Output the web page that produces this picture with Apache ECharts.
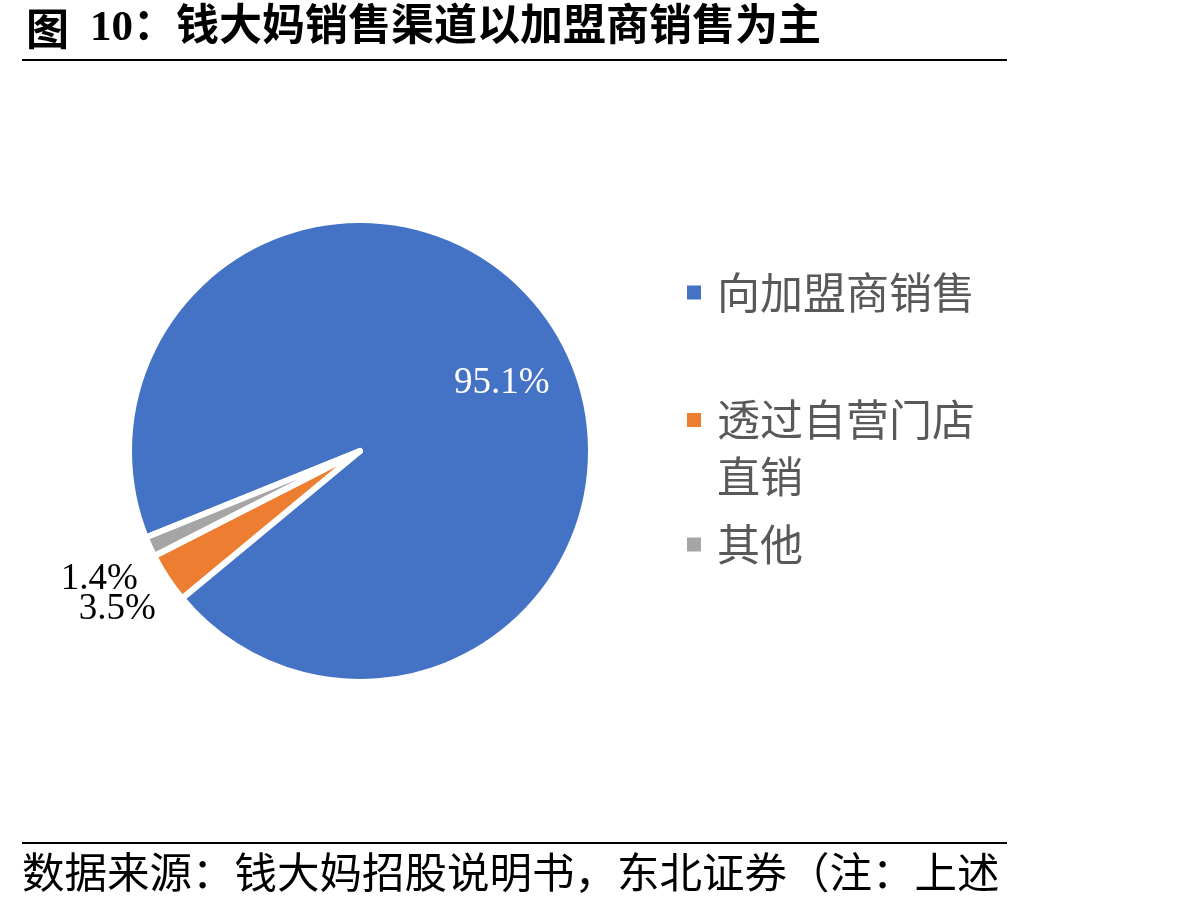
<!DOCTYPE html>
<html>
<head>
<meta charset="utf-8">
<script src="https://cdn.jsdelivr.net/npm/echarts@6/dist/echarts.min.js"></script>
<style>
html,body{margin:0;padding:0;background:#fff;}
#c{width:1198px;height:907px;}
</style>
</head>
<body>
<div id="c"></div>
<script>
// ---- data ----
var categories = ['向加盟商销售', '透过自营门店直销', '其他'];
var legendLines = [['向加盟商销售'], ['透过自营门店', '直销'], ['其他']];
var values = [95.1, 3.5, 1.4];
var colors = ['#4472C4', '#ED7D31', '#A5A5A5'];
var titleText = '图';
var titleText2 = '10：钱大妈销售渠道以加盟商销售为主';
var sourceText = '数据来源：钱大妈招股说明书，东北证券（注：上述';

// ---- layout constants ----
var CX = 360, CY = 451, R = 231, START = 202;
var labelFactor = [0.696, 1.263, 1.268];
var labelAngleNudge = [-4.2, -0.8, 1.1];
var labelColor = ['#ffffff', '#000000', '#000000'];

var total = values.reduce(function (a, b) { return a + b; }, 0);
function midAngleDeg(i) {
  var acc = 0;
  for (var k = 0; k < i; k++) acc += values[k];
  var mid = acc + values[i] / 2;
  return START - mid / total * 360; // clockwise
}

var chart = echarts.init(document.getElementById('c'), null, { renderer: 'canvas' });

var LH = 57;
var legendTops = [271, 353, 523];
var legends = categories.map(function (name, i) {
  var lines = legendLines[i];
  return {
    orient: 'vertical',
    left: 685,
    top: legendTops[i],
    padding: 0,
    itemWidth: 16,
    itemHeight: 16,
    icon: 'rect',
    selectedMode: false,
    data: [{ name: name, itemStyle: { color: colors[i] } }],
    formatter: function () {
      var s = lines.map(function (l) { return '{a|' + l + '}'; }).join('\n');
      // extra blank top line so the square sits beside the first text line
      if (lines.length === 2) s = '{e| }\n' + s;
      return s;
    },
    textStyle: {
      padding: [0, 0, 0, 10],
      rich: {
        a: { fontFamily: 'Noto Sans CJK SC', fontSize: 43, color: '#595959', lineHeight: LH },
        e: { fontSize: 20, lineHeight: LH }
      }
    }
  };
});

var option = {
  animation: false,
  backgroundColor: '#ffffff',
  legend: legends,
  graphic: [
    { type: 'text', style: { x: 26, y: 29, text: titleText, fontFamily: 'Noto Sans CJK SC', fontWeight: 'bold', fontSize: 43, fill: '#000', verticalAlign: 'middle' } },
    { type: 'text', style: { x: 90, y: 29, text: titleText2, fontFamily: 'Liberation Serif, Noto Sans CJK SC', fontWeight: 'bold', fontSize: 43, fill: '#000', verticalAlign: 'middle' } },
    { type: 'line', shape: { x1: 22, y1: 60, x2: 1007, y2: 60 }, style: { stroke: '#000', lineWidth: 2 } },
    { type: 'line', shape: { x1: 22, y1: 843, x2: 1007, y2: 843 }, style: { stroke: '#000', lineWidth: 2 } },
    { type: 'text', style: { x: 22, y: 872, text: sourceText, fontFamily: 'Noto Sans CJK SC', fontSize: 42.5, fill: '#000', verticalAlign: 'middle' } }
  ],
  series: [{
    type: 'pie',
    center: [CX, CY],
    radius: R,
    startAngle: START,
    clockwise: true,
    silent: true,
    avoidLabelOverlap: false,
    itemStyle: { borderColor: '#ffffff', borderWidth: 6, borderJoin: 'round' },
    label: {
      show: true,
      position: 'inside',
      fontFamily: 'Liberation Serif',
      fontSize: 37,
      formatter: function (p) { return p.value.toFixed(1) + '%'; }
    },
    labelLine: { show: false },
    emphasis: { disabled: true },
    labelLayout: function (p) {
      var i = p.dataIndex;
      var a = (midAngleDeg(i) + labelAngleNudge[i]) * Math.PI / 180;
      var r = (R - 3) * labelFactor[i];
      return {
        x: CX + r * Math.cos(a),
        y: CY - r * Math.sin(a) + 3,
        align: 'center',
        verticalAlign: 'middle'
      };
    },
    data: categories.map(function (name, i) {
      return {
        name: name,
        value: values[i],
        itemStyle: { color: colors[i] },
        label: { color: labelColor[i] }
      };
    })
  }]
};
chart.setOption(option);
</script>
</body>
</html>
